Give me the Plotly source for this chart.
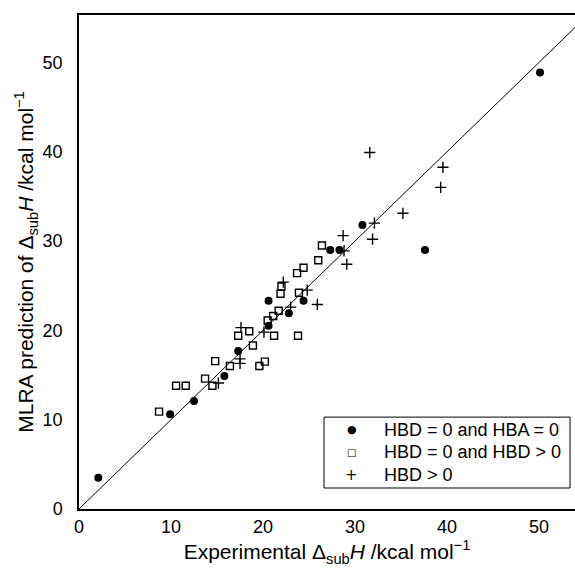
import plotly.graph_objects as go

# HBD = 0 and HBA = 0 (filled circles)
exp_a = [2.1, 9.9, 12.5, 15.8, 17.3, 20.6, 20.6, 22.8, 24.4, 27.3, 28.3, 30.8, 37.6, 50.1]
pred_a = [3.5, 10.6, 12.1, 14.9, 17.7, 20.5, 23.3, 21.9, 23.3, 29.0, 29.0, 31.8, 29.0, 48.85]

# HBD = 0 and HBD > 0 (open squares)
exp_b = [8.7, 10.55, 11.6, 13.7, 14.5, 14.8, 16.4, 17.3, 18.5, 18.9, 19.6, 20.2, 20.5, 21.1,
         21.2, 21.7, 21.9, 22.0, 23.8, 23.9, 23.7, 24.4, 26.0, 26.4]
pred_b = [10.9, 13.8, 13.8, 14.6, 13.8, 16.55, 16.0, 19.4, 19.9, 18.3, 16.0, 16.5, 21.1, 21.6,
          19.4, 22.2, 24.1, 24.9, 19.4, 24.2, 26.4, 27.0, 27.85, 29.5]

# HBD > 0 (plus signs)
exp_c = [15.15, 17.5, 17.5, 17.6, 20.1, 23.0, 22.2, 24.8, 25.9, 28.8, 28.7, 29.1, 31.6,
         32.1, 31.9, 35.2, 39.3, 39.55]
pred_c = [14.1, 16.3, 16.8, 20.3, 19.8, 22.6, 25.4, 24.5, 22.9, 28.9, 30.6, 27.4, 39.9,
          32.0, 30.2, 33.1, 36.0, 38.25]

diag = [0, 60]
x_ticks = [0, 10, 20, 30, 40, 50]
y_ticks = [0, 10, 20, 30, 40, 50]
legend_names = ["HBD = 0 and HBA = 0", "HBD = 0 and HBD > 0", "HBD > 0"]
legend_symbols = ["●", "□", "+"]

FONT = "Arial, Liberation Sans, Helvetica, sans-serif"

fig = go.Figure()
fig.add_trace(go.Scatter(x=diag, y=diag, mode="lines", line=dict(color="black", width=1),
                         showlegend=False, hoverinfo="skip"))
fig.add_trace(go.Scatter(x=exp_a, y=pred_a, mode="markers", name=legend_names[0], showlegend=False,
                         marker=dict(symbol="circle", size=8, color="black", line=dict(width=0))))
fig.add_trace(go.Scatter(x=exp_b, y=pred_b, mode="markers", name=legend_names[1], showlegend=False,
                         marker=dict(symbol="square-open", size=7, color="black", line=dict(width=1.4))))
fig.add_trace(go.Scatter(x=exp_c, y=pred_c, mode="markers", name=legend_names[2], showlegend=False,
                         marker=dict(symbol="cross-thin", size=8, color="black", line=dict(width=1.4, color="black"))))

# legend box drawn as shape + text annotations (matches the compact row spacing of the original)
fig.add_shape(type="rect", xref="paper", yref="paper", x0=0.494, x1=0.990, y0=0.0425, y1=0.186,
              line=dict(color="black", width=1), fillcolor="white", layer="above")
row_y = [0.160, 0.1145, 0.069]
sym_sizes = [11, 10, 15]
for name, sym, yy, ss in zip(legend_names, legend_symbols, row_y, sym_sizes):
    fig.add_annotation(xref="paper", yref="paper", x=0.550, y=yy, text=sym, showarrow=False,
                       xanchor="center", yanchor="middle",
                       font=dict(size=ss, family="DejaVu Sans, Arial", color="black"))
    fig.add_annotation(xref="paper", yref="paper", x=0.611, y=yy, text=name, showarrow=False,
                       xanchor="left", yanchor="middle",
                       font=dict(size=18, family=FONT, color="black"))

fig.update_layout(
    width=575, height=569,
    margin=dict(l=79, r=0, t=15, b=60),
    paper_bgcolor="white", plot_bgcolor="white",
    font=dict(family=FONT, size=18, color="black"),
    showlegend=False,
    xaxis=dict(range=[0, 53.9], tickvals=x_ticks, showgrid=False, zeroline=False,
               showline=True, linecolor="black", linewidth=1.5, mirror=True,
               ticks="", tickfont=dict(size=18), ticklabelstandoff=1, automargin=False,
               title=dict(text="Experimental Δ<sub>sub</sub><i>H</i> /kcal mol<sup>−1</sup>",
                          font=dict(size=21), standoff=2)),
    yaxis=dict(range=[0, 55.3], tickvals=y_ticks, showgrid=False, zeroline=False,
               showline=True, linecolor="black", linewidth=1.5,
               ticks="", tickfont=dict(size=18), ticklabelstandoff=11, automargin=False,
               title=dict(text="MLRA prediction of Δ<sub>sub</sub><i>H</i> /kcal mol<sup>−1</sup>",
                          font=dict(size=21), standoff=3)),
)

# remove the default page margin / scrollbars so the figure fills the window exactly
fig.write_html("out.html", config={"displayModeBar": False},
               post_script="document.body.style.margin='0';document.body.style.overflow='hidden';")
